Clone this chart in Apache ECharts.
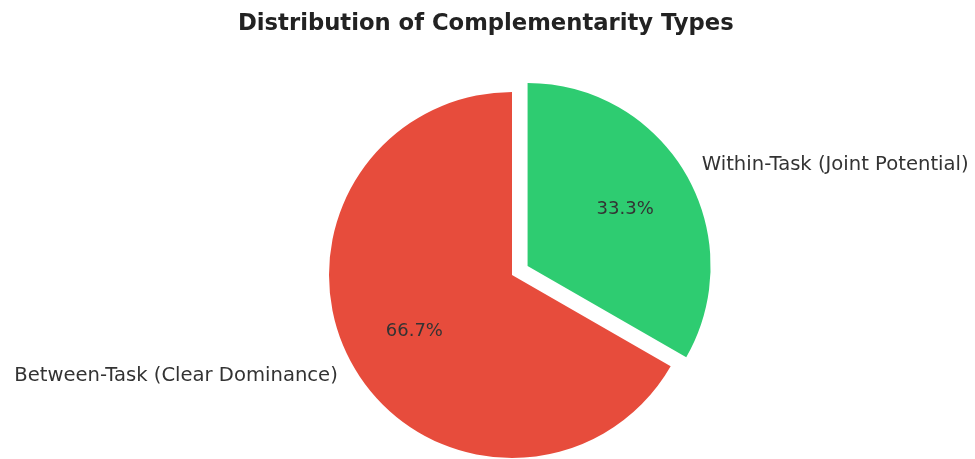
<!DOCTYPE html>
<html>
<head>
<meta charset="utf-8">
<script src="https://cdn.jsdelivr.net/npm/echarts@6/dist/echarts.min.js"></script>
<style>
html,body{margin:0;padding:0;background:#fff;}
#chart{width:975px;height:459px;}
</style>
</head>
<body>
<div id="chart"></div>
<script>
const titleText = 'Distribution of Complementarity Types';
const categories = ['Between-Task (Clear Dominance)', 'Within-Task (Joint Potential)'];
const values = [66.7, 33.3];
const colors = ['#e74c3c', '#2ecc71'];
const exploded = [false, true];

const R = 183;
const center = [512, 275];
const font = 'DejaVu Sans';
const textColor = '#333333';

const chart = echarts.init(document.getElementById('chart'), null, {renderer: 'canvas'});

const mainData = categories.map((c, i) => ({
  name: c,
  value: values[i],
  selected: exploded[i],
  itemStyle: {color: colors[i]},
  label: {align: i === 0 ? 'right' : 'left'}
}));
const pctData = categories.map((c, i) => ({
  name: c,
  value: values[i],
  selected: exploded[i],
  itemStyle: {color: 'rgba(0,0,0,0)'}
}));

chart.setOption({
  animation: false,
  backgroundColor: '#ffffff',
  title: {
    text: titleText,
    left: 233,
    top: 8,
    textStyle: {fontFamily: font, fontWeight: 'bold', fontSize: 22.7, color: '#222222'}
  },
  series: [
    {
      type: 'pie',
      center: center,
      radius: [0, R],
      startAngle: 90,
      clockwise: false,
      selectedMode: 'multiple',
      selectedOffset: 18,
      avoidLabelOverlap: false,
      silent: true,
      data: mainData,
      label: {
        show: true,
        position: 'outside',
        formatter: '{b}',
        fontFamily: font,
        fontSize: 19.6,
        color: textColor,
        distanceToLabelLine: 0
      },
      labelLine: {show: false, length: R * 0.1, length2: 0},
      emphasis: {disabled: true}
    },
    {
      type: 'pie',
      center: center,
      radius: [0, R * 1.2],
      startAngle: 90,
      clockwise: false,
      selectedMode: 'multiple',
      selectedOffset: 18,
      avoidLabelOverlap: false,
      silent: true,
      data: pctData,
      label: {
        show: true,
        position: 'inside',
        formatter: p => p.value.toFixed(1) + '%',
        fontFamily: font,
        fontSize: 18,
        color: textColor
      },
      labelLine: {show: false},
      emphasis: {disabled: true}
    }
  ]
});
</script>
</body>
</html>
